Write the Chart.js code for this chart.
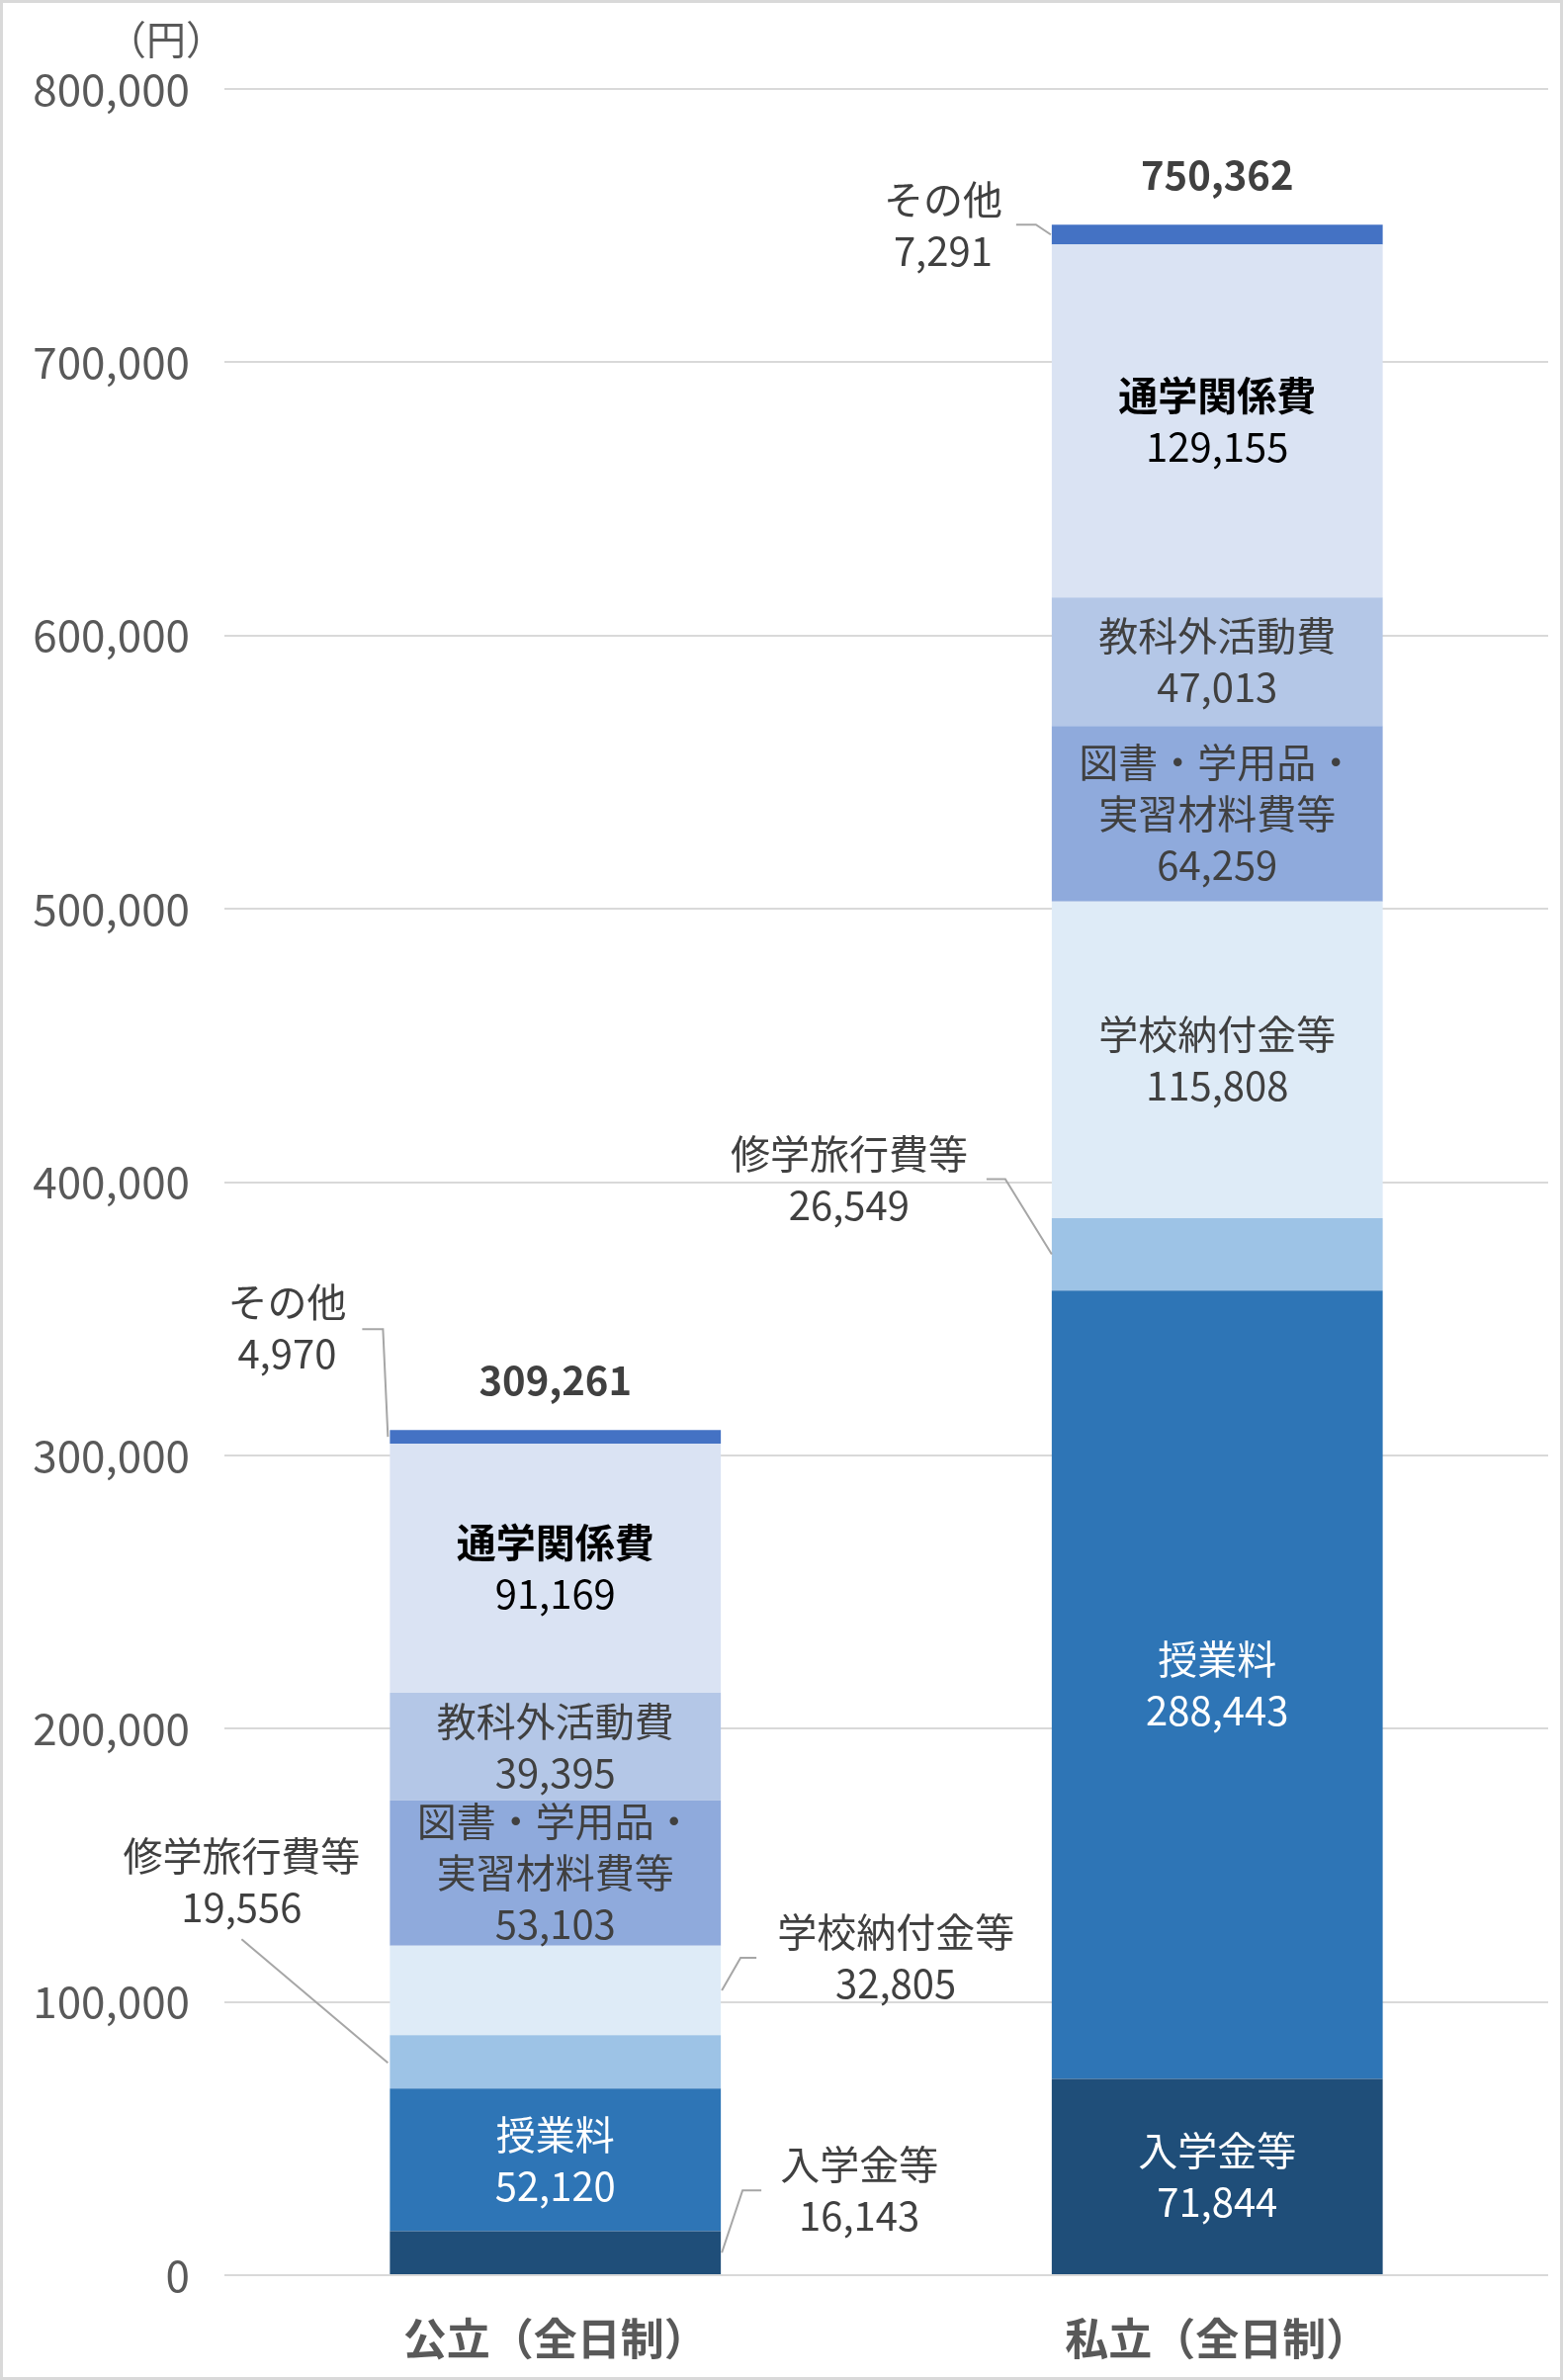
<!DOCTYPE html>
<html>
<head>
<meta charset="utf-8">
<script src="https://cdn.jsdelivr.net/npm/chart.js@4.4.1/dist/chart.umd.min.js"></script>
<style>
  body { margin: 0; background: #fff; }
  canvas { display: block; }
</style>
</head>
<body>
<canvas id="chart" width="1581" height="2407"></canvas>
<script>
// 区分
const categories = ['公立（全日制）', '私立（全日制）'];

// 系列名 (積み上げ順: 下から上)
const seriesNames = ['入学金等', '授業料', '修学旅行費等', '学校納付金等', '図書・学用品・\n実習材料費等', '教科外活動費', '通学関係費', 'その他'];

// 系列の値 (円)  [公立, 私立]
const nyugakukinValues = [16143, 71844];
const jugyoryoValues = [52120, 288443];
const shugakuRyokoValues = [19556, 26549];
const gakkoNofukinValues = [32805, 115808];
const toshoValues = [53103, 64259];
const kyokagaiValues = [39395, 47013];
const tsugakuValues = [91169, 129155];
const sonotaValues = [4970, 7291];

// 合計
const totalValues = [309261, 750362];

// 目盛り
const yTicks = [0, 100000, 200000, 300000, 400000, 500000, 600000, 700000, 800000];

const seriesValues = [nyugakukinValues, jugyoryoValues, shugakuRyokoValues, gakkoNofukinValues,
  toshoValues, kyokagaiValues, tsugakuValues, sonotaValues];
const seriesColors = ['#1F4E79', '#2E75B6', '#9DC3E6', '#DEEBF7', '#8FAADC', '#B4C7E7', '#DAE3F3', '#4472C4'];

const FONT = "'Noto Sans CJK JP', 'Noto Sans', sans-serif";
const fmt = v => v.toLocaleString('en-US');

// バーの外に出すラベル (key = 系列-区分)、leader は棒の端・区間中心からの相対位置
const outsideLabels = {
  '7-0': { side: 'left', tx: -104, ty: -110, pts: [[-28, -109], [-7, -109], [-2, 0]] },
  '2-0': { side: 'left', tx: -150, ty: -183, pts: [[-150, -124], [-2, 1]] },
  '3-0': { side: 'right', tx: 177, ty: -33, pts: [[36, -33], [20, -33], [1, 0]] },
  '0-0': { side: 'right', tx: 140, ty: -63, pts: [[41, -63], [22, -63], [1, 0]] },
  '7-1': { side: 'left', tx: -110, ty: -9, pts: [[-36, -10], [-16, -10], [-1, 0]] },
  '2-1': { side: 'left', tx: -205, ty: -76, pts: [[-66, -76], [-47, -76], [0, 0]] }
};

const LINE_H = 52;

function drawLines(ctx, lines, x, y) {
  lines.forEach((l, k) => {
    ctx.font = l.font;
    ctx.fillStyle = l.color;
    ctx.fillText(l.text, x, y + (k - (lines.length - 1) / 2) * LINE_H);
  });
}

const labelPlugin = {
  id: 'labels',
  beforeDraw(chart) {
    const ctx = chart.ctx;
    ctx.save();
    ctx.fillStyle = '#fff';
    ctx.fillRect(0, 0, chart.width, chart.height);
    ctx.restore();
  },
  afterDatasetsDraw(chart) {
    const ctx = chart.ctx;
    ctx.save();
    ctx.textAlign = 'center';
    ctx.textBaseline = 'middle';

    chart.data.datasets.forEach((ds, i) => {
      const meta = chart.getDatasetMeta(i);
      meta.data.forEach((bar, j) => {
        const cy = (bar.y + bar.base) / 2;
        const left = bar.x - bar.width / 2;
        const right = bar.x + bar.width / 2;
        const nameLines = seriesNames[i].split('\n');
        const out = outsideLabels[i + '-' + j];
        let color = '#404040';
        if (i <= 1) color = '#ffffff';
        if (i === 6) color = '#000000';
        const nameFont = (i === 6 ? 'bold ' : '') + '40px ' + FONT;
        const lines = nameLines.map(t => ({ text: t, font: nameFont, color: out ? '#404040' : color }));
        lines.push({ text: fmt(ds.data[j]), font: '40px ' + FONT, color: out ? '#404040' : color });

        if (out) {
          const ax = out.side === 'left' ? left : right;
          ctx.strokeStyle = '#a6a6a6';
          ctx.lineWidth = 2;
          ctx.beginPath();
          out.pts.forEach((p, k) => {
            if (k === 0) ctx.moveTo(ax + p[0], cy + p[1]);
            else ctx.lineTo(ax + p[0], cy + p[1]);
          });
          ctx.stroke();
          drawLines(ctx, lines, ax + out.tx, cy + out.ty);
        } else {
          drawLines(ctx, lines, bar.x, cy);
        }
      });
    });

    // 合計
    const topMeta = chart.getDatasetMeta(chart.data.datasets.length - 1);
    topMeta.data.forEach((bar, j) => {
      ctx.font = 'bold 40px ' + FONT;
      ctx.fillStyle = '#404040';
      ctx.fillText(fmt(totalValues[j]), bar.x, bar.y - 50);
    });

    // 単位
    ctx.font = '40px ' + FONT;
    ctx.fillStyle = '#595959';
    ctx.fillText('（円）', 168, 40);
    ctx.restore();
  },
  afterDraw(chart) {
    const ctx = chart.ctx;
    ctx.save();
    ctx.strokeStyle = '#d9d9d9';
    ctx.lineWidth = 3;
    ctx.strokeRect(1.5, 1.5, chart.width - 3, chart.height - 3);
    ctx.restore();
  }
};

new Chart(document.getElementById('chart'), {
  type: 'bar',
  data: {
    labels: categories,
    datasets: seriesValues.map((vals, i) => ({
      label: seriesNames[i],
      data: vals,
      backgroundColor: seriesColors[i],
      borderWidth: 0,
      barPercentage: 0.5,
      categoryPercentage: 1.0
    }))
  },
  options: {
    responsive: false,
    devicePixelRatio: 1,
    animation: false,
    layout: { padding: { top: 90, right: 15, bottom: 0, left: 0 } },
    plugins: {
      legend: { display: false },
      tooltip: { enabled: false }
    },
    scales: {
      x: {
        stacked: true,
        grid: { display: false },
        border: { display: false },
        ticks: {
          color: '#595959',
          padding: 30,
          font: { family: FONT, size: 44, weight: 'bold' }
        },
        afterFit(scale) { scale.height = 106; }
      },
      y: {
        stacked: true,
        min: 0,
        max: 800000,
        afterBuildTicks(scale) { scale.ticks = yTicks.map(v => ({ value: v })); },
        grid: { color: '#d9d9d9', lineWidth: 2, drawTicks: false },
        border: { display: false },
        ticks: {
          color: '#595959',
          padding: 35,
          font: { family: FONT, size: 44 },
          callback: v => fmt(v)
        },
        afterFit(scale) { scale.width = 227; }
      }
    }
  },
  plugins: [labelPlugin]
});
</script>
</body>
</html>
